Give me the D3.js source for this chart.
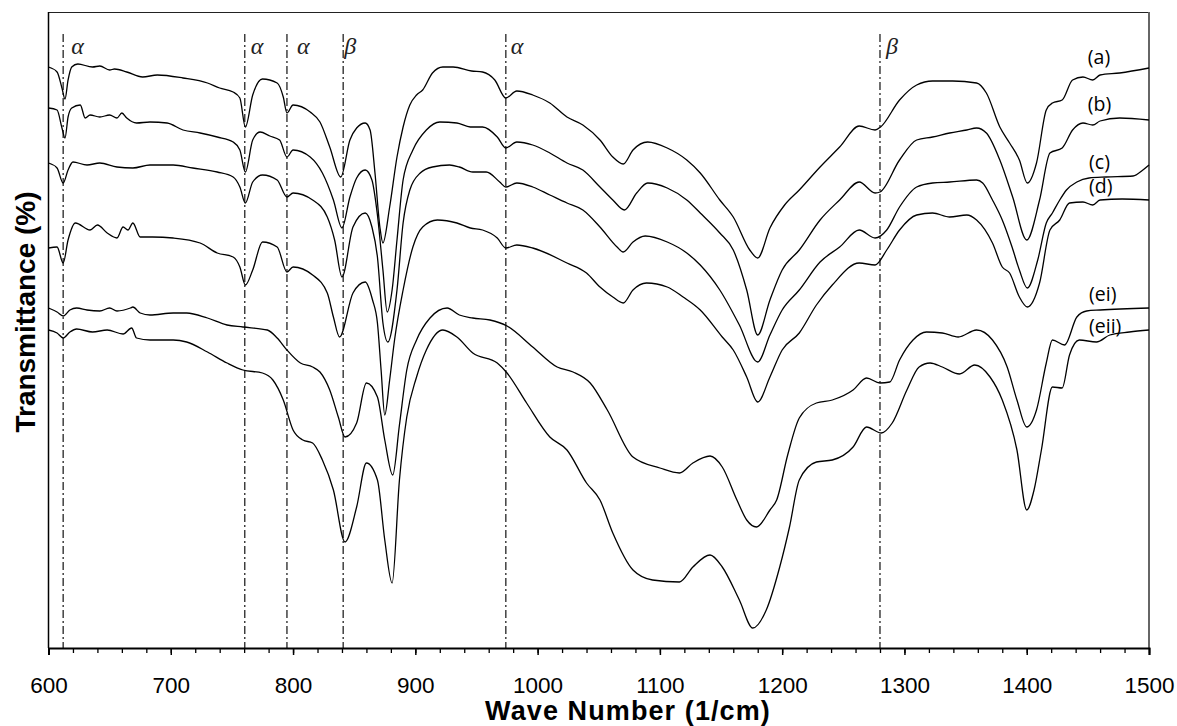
<!DOCTYPE html>
<html lang="en">
<head>
<meta charset="UTF-8">
<title>FTIR spectra</title>
<script src="https://d3js.org/d3.v7.min.js"></script>
<style>
  body { margin: 0; background: #fff; }
  .x.axis text { font-family: Arial, "Liberation Sans", sans-serif; font-size: 22.5px; fill: #000; }
  .x.axis line, .x.axis path { stroke: #000; }
  .title { font-family: Arial, "Liberation Sans", sans-serif; font-weight: bold; fill: #000; }
  .curve { fill: none; stroke: #000; stroke-width: 1.3; }
  .band { stroke: #333; stroke-width: 1.4; stroke-dasharray: 8,3,2,3; }
  .bandlabel { font-family: "Liberation Serif", "DejaVu Serif", serif; font-style: italic; font-size: 24px; fill: #222; }
  .serieslabel { font-family: "Open Sans", "Noto Sans", sans-serif; font-size: 19.5px; fill: #000; }
</style>
</head>
<body>
<svg id="chart" width="1177" height="726"></svg>
<script>
// wave number (1/cm), transmittance (arbitrary units, curves offset)
const specA = [[600,581],[607,576],[611,560],[613.5,549],[616,568],[619,581],[624,584],[636,581],[642,582],[650,578],[654,579],[664,576],[677,571],[689,573],[710,570],[730,565],[740,560],[751,556],[756.5,550],[761,521],[767,553],[775,569],[787,565],[792,551],[795,535],[800,543],[814,536],[822,526],[830,501],[839,471],[846.5,508],[852,520],[859,525],[863,518],[867,475],[871,421],[873.5,405],[879,441],[885,491],[890,521],[895.5,543],[901,553],[906,558],[914,575],[922.5,581],[931,581],[946,577],[955,576],[965,568],[974,550],[983,557],[996,553],[1010,545],[1024,531],[1037,523],[1051,508],[1061.5,491],[1070,484],[1078,498],[1090,506],[1106,500],[1122,488],[1133,475],[1149,448],[1160,431],[1173.5,398],[1180,390],[1190,420],[1202,443],[1214,458],[1231,481],[1247,501],[1263,522],[1276,518],[1280.5,521],[1296,548],[1310,563],[1323,567],[1339.5,567],[1359,565],[1367,555],[1378,521],[1386,505],[1394,488],[1400.5,465],[1408,485],[1416,538],[1421,545],[1429,548],[1437.5,568],[1446,571],[1454,568],[1460,573],[1476,575],[1500,580]];

const specB = [[600,540],[607,538],[611,520],[613.5,510],[616,531],[619,540],[626,543],[630,530],[634,533],[642,531],[650,533],[656,530],[660,535],[664,530],[672,525],[683,526],[697,525],[710,518],[724,515],[738,511],[751,506],[756.5,498],[761,476],[767,508],[773,516],[781,512],[789,508],[795,491],[800,498],[814,491],[824,475],[833,448],[840,420],[846.5,451],[852,470],[859,478],[864.5,468],[869,433],[873.5,378],[877,336],[881,358],[885,408],[890,468],[898,498],[909,518],[920,526],[934,525],[945,521],[955,521],[967,511],[974,500],[983,506],[996,503],[1010,495],[1024,485],[1037,478],[1051,461],[1061.5,448],[1071,438],[1081,455],[1090,465],[1106,460],[1122,448],[1133,435],[1149,415],[1160,398],[1171,358],[1180,313],[1190,348],[1200,378],[1214,398],[1231,428],[1247,448],[1263,466],[1276,455],[1280,456],[1296,488],[1310,508],[1323,511],[1337,515],[1351,518],[1359,520],[1367,515],[1378,488],[1388.5,451],[1400,408],[1410.5,448],[1419,495],[1429,500],[1437.5,518],[1446,525],[1454,523],[1460,527],[1476,530],[1500,528]];

const specC = [[600,485],[607,480],[612,465],[616,478],[620,486],[631.5,483],[642,485],[656,481],[669,480],[683,483],[702,483],[718,480],[738,476],[751,471],[756.5,461],[761,445],[767,466],[775,473],[787,468],[795,451],[800,455],[816,448],[828,431],[834,408],[840,371],[849,421],[859,435],[864.5,421],[869,391],[873.5,325],[877.5,306],[885,358],[890,425],[895.5,458],[904,475],[914,481],[928,483],[936,481],[947,476],[958,476],[969,466],[974,461],[983,465],[996,461],[1010,453],[1024,445],[1037,438],[1051,421],[1065,401],[1070,396],[1078,406],[1088,412],[1106,406],[1122,395],[1133,383],[1149,358],[1165,323],[1180,286],[1190,313],[1200,338],[1214,358],[1231,386],[1247,401],[1263,418],[1276,410],[1285.5,418],[1296,441],[1310,461],[1323,465],[1337,466],[1359,468],[1364,465],[1372,448],[1380,428],[1388,401],[1394,378],[1400.5,360],[1409,388],[1416,425],[1421,435],[1427,448],[1432.5,458],[1441,466],[1451,470],[1465,471],[1487,472],[1495,478],[1500,483]];

const specD = [[600,400],[607,401],[612,385],[616,408],[622,425],[634,418],[640,423],[648,415],[656,410],[661,421],[665,418],[669,425],[675,411],[685,411],[702,410],[724,405],[738,395],[751,391],[756.5,381],[761,363],[767,378],[775,406],[787,401],[795,376],[800,381],[816,373],[828,355],[833,331],[838,311],[849,355],[859,366],[865,348],[869,325],[872,278],[875,233],[879,268],[883,308],[890,358],[898,401],[906,421],[918,428],[934,425],[945,420],[955,418],[967,410],[974,400],[983,403],[996,400],[1024,385],[1040,375],[1051,361],[1061.5,351],[1070,345],[1078,358],[1089,365],[1106,361],[1119,351],[1133,338],[1151,311],[1160,298],[1171,271],[1180,246],[1190,271],[1200,298],[1214,315],[1228,343],[1241,363],[1263,385],[1276,383],[1285.5,398],[1296,418],[1310,433],[1323,435],[1337,431],[1351,433],[1359,428],[1372,405],[1380,381],[1386,375],[1394,351],[1400.5,341],[1410.5,365],[1419,418],[1427,428],[1435,445],[1446,446],[1454,443],[1460,448],[1478,449],[1500,448]];

const specEi = [[600,340],[607,336],[612,332],[617.5,338],[623,340],[631.5,338],[642,337],[650,340],[656,337],[667,340],[669,341],[675,335],[683,333],[702,335],[713,335],[730,330],[746,323],[759,321],[779,318],[787,310],[795,298],[806,285],[816,281],[822,276],[830,258],[837,231],[842.5,211],[852,225],[860,265],[869,251],[875,208],[881.5,173],[887,223],[893,278],[901,308],[912,330],[926,340],[936,333],[947,330],[961,328],[975,322],[996,301],[1016,281],[1029,276],[1043,265],[1057,238],[1078,191],[1100,180],[1116,175],[1127,185],[1141,192],[1151,181],[1163,148],[1171,128],[1179,121],[1190,138],[1195.5,148],[1204.5,193],[1214,230],[1228,245],[1241,248],[1258,258],[1269,270],[1280,265],[1288,266],[1296,288],[1307,308],[1318,316],[1331,315],[1344,311],[1359,318],[1372,308],[1384,281],[1392,248],[1400,221],[1408,238],[1416,285],[1421,308],[1431,303],[1441,331],[1449,337],[1460,338],[1500,340]];

const specEii = [[600,318],[607,315],[612,310],[617.5,316],[623,319],[636,316],[648,318],[661,314],[668,320],[672,310],[683,308],[702,308],[713,306],[730,296],[746,285],[759,278],[775,275],[783.5,268],[792,248],[800,218],[808,208],[816,205],[824,188],[833,158],[842.5,106],[852,141],[860,185],[869,168],[875,108],[881,65],[887,168],[893,231],[901,271],[909,298],[922.5,318],[934,311],[947,295],[967,285],[975,275],[991,245],[1010,211],[1024,198],[1040,165],[1051,148],[1061.5,115],[1078,78],[1094,68],[1116,66],[1127,81],[1141,93],[1151,81],[1165,48],[1176,20],[1187,38],[1198,81],[1206,121],[1214,168],[1228,186],[1241,188],[1258,201],[1269,221],[1281,215],[1290,225],[1302,258],[1312,281],[1321,285],[1331,281],[1345,274],[1357.5,283],[1370,271],[1380,248],[1392,198],[1400,138],[1406,158],[1412,198],[1421,261],[1429,260],[1435,293],[1443,308],[1457,306],[1468,313],[1484,316],[1500,318]];

const seriesNames = ['(a)', '(b)', '(c)', '(d)', '(ei)', '(eii)'];
const bandWaveNumbers = [612, 760.5, 795, 841, 974, 1280];
const bandNames = ['α', 'α', 'α', 'β', 'α', 'β'];
const majorTicks = [600, 700, 800, 900, 1000, 1100, 1200, 1300, 1400, 1500];

const allSpectra = [specA, specB, specC, specD, specEi, specEii];

// layout
const svg = d3.select('#chart');
const margins = { top: 12, right: 28, bottom: 78, left: 48.5 };
const width = +svg.attr('width');
const height = +svg.attr('height');
const plotRight = width - margins.right;
const plotBottom = height - margins.bottom;

const xScale = d3.scaleLinear().domain([600, 1500]).range([margins.left, plotRight]);
const yScale = d3.scaleLinear().domain([0, 636]).range([plotBottom, margins.top]);

// label placement (wave number, transmittance) for series names
const labelPos = [[1450, 584], [1450, 537], [1451, 479], [1451, 455], [1451, 347], [1451, 315]];
const bandLabelDx = [8, 6, 10, 1, 5, 6];

// frame: top and right edge
svg.append('line')
  .attr('x1', margins.left).attr('x2', plotRight)
  .attr('y1', margins.top + 0.5).attr('y2', margins.top + 0.5)
  .attr('stroke', '#222').attr('stroke-width', 1.2);
svg.append('line')
  .attr('x1', plotRight).attr('x2', plotRight)
  .attr('y1', margins.top).attr('y2', plotBottom)
  .attr('stroke', '#666').attr('stroke-width', 2);

// band marker lines
const bands = svg.append('g');
bandWaveNumbers.forEach((wn, i) => {
  bands.append('line')
    .attr('class', 'band')
    .attr('x1', xScale(wn)).attr('x2', xScale(wn))
    .attr('y1', 34).attr('y2', plotBottom);
  bands.append('text')
    .attr('class', 'bandlabel')
    .attr('x', xScale(wn) + bandLabelDx[i])
    .attr('y', 54)
    .text(bandNames[i]);
});

// spectra
const line = d3.line()
  .x(d => xScale(d[0]))
  .y(d => yScale(d[1]))
  .curve(d3.curveMonotoneX);

allSpectra.forEach(s => {
  svg.append('path')
    .datum(s)
    .attr('class', 'curve')
    .attr('d', line);
});

// series labels
seriesNames.forEach((name, i) => {
  svg.append('text')
    .attr('class', 'serieslabel')
    .attr('x', xScale(labelPos[i][0]))
    .attr('y', yScale(labelPos[i][1]))
    .text(name);
});

// left axis line (no ticks)
svg.append('line')
  .attr('x1', margins.left).attr('x2', margins.left)
  .attr('y1', margins.top).attr('y2', plotBottom)
  .attr('stroke', '#000').attr('stroke-width', 1.5);

// bottom axis: minor ticks then major ticks with labels
const minorAxis = d3.axisBottom(xScale)
  .tickValues(d3.range(600, 1501, 20))
  .tickSize(5)
  .tickFormat('');
svg.append('g')
  .attr('class', 'x axis')
  .attr('transform', `translate(0,${plotBottom})`)
  .call(minorAxis)
  .call(g => g.selectAll('line').attr('stroke-width', 1.3));

const majorAxis = d3.axisBottom(xScale)
  .tickValues(majorTicks)
  .tickSize(7)
  .tickPadding(14)
  .tickFormat(d3.format('d'));
svg.append('g')
  .attr('class', 'x axis')
  .attr('transform', `translate(0,${plotBottom})`)
  .call(majorAxis)
  .call(g => g.select('.domain').attr('stroke-width', 2))
  .call(g => g.selectAll('line').attr('stroke-width', 1.5))
  .call(g => g.selectAll('text').attr('dy', null).attr('y', 44.5));

// axis titles
svg.append('text')
  .attr('class', 'title')
  .attr('x', 628).attr('y', 720)
  .attr('text-anchor', 'middle')
  .style('font-size', '27px')
  .style('letter-spacing', '1.1px')
  .text('Wave Number (1/cm)');

svg.append('text')
  .attr('class', 'title')
  .attr('transform', 'translate(35,312) rotate(-90)')
  .attr('text-anchor', 'middle')
  .style('font-size', '28px')
  .text('Transmittance (%)');
</script>
</body>
</html>
